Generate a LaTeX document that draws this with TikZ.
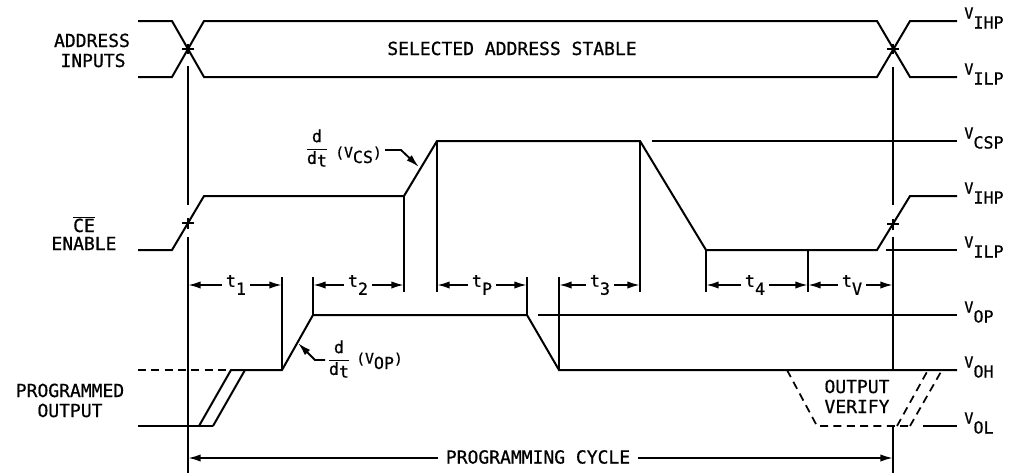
\documentclass[tikz,border=0pt]{standalone}
\usepackage{fontspec}
\setmainfont{DejaVu Sans Mono}[FakeBold=0.7]
\usetikzlibrary{arrows.meta}
\newcommand{\tsb}[1]{t\raisebox{-6pt}{#1}}
\newcommand{\vsb}[1]{\raisebox{7.5pt}{\fontsize{11.5}{12}\selectfont V}#1}
\begin{document}
\begin{tikzpicture}[x=0.75pt,y=-0.75pt,
  sig/.style={line width=1.5pt, line join=miter},
  thinl/.style={line width=1.4pt},
  dsh/.style={line width=1.3pt, dash pattern=on 6pt off 4pt},
  dimarr/.style={line width=1.4pt,-{Latex[length=9.5pt,width=5.5pt]}},
  lead/.style={line width=1.4pt,-{Latex[length=10pt,width=5.5pt]}},
  lbl/.style={font=\fontsize{13.5}{16}\selectfont, inner sep=0pt, anchor=base},
  tl/.style={font=\fontsize{12.5}{12}\selectfont, inner xsep=3pt, inner ysep=0pt},
  vl/.style={font=\fontsize{12.5}{14}\selectfont, anchor=base west, inner sep=0pt},
  frc/.style={font=\fontsize{12.5}{13}\selectfont, inner sep=0pt},
]
\useasboundingbox (0,0) rectangle (1016,475);

% ---- left labels
\node[lbl] (addr1) at (92,47) {ADDRESS};
\node[lbl] (addr2) at (93,67) {INPUTS};
\node[lbl] (ce1) at (84,232) {$\overline{\mbox{CE}}$};
\node[lbl] (ce2) at (84,250) {ENABLE};
\node[lbl] (po1) at (70,397) {PROGRAMMED};
\node[lbl] (po2) at (70,417) {OUTPUT};
\node[lbl] (stable) at (512,55) {SELECTED ADDRESS STABLE};

% ---- right labels
\node[vl] (r1) at (964,28.5) {\vsb{IHP}};
\node[vl] (r2) at (964,84.5) {\vsb{ILP}};
\node[vl] (r3) at (964,148.5) {\vsb{CSP}};
\node[vl] (r4) at (964,203.5) {\vsb{IHP}};
\node[vl] (r5) at (964,257.5) {\vsb{ILP}};
\node[vl] (r6) at (964,322.5) {\vsb{OP}};
\node[vl] (r7) at (964,377.5) {\vsb{OH}};
\node[vl] (r8) at (964,433.5) {\vsb{OL}};

% ---- address inputs
\draw[sig] (138,21) -- (172,21) -- (204,77) -- (877,77) -- (910,21) -- (957,21);
\draw[sig] (138,77) -- (172,77) -- (204,21) -- (877,21) -- (910,77) -- (957,77);

% crossing marks
\draw[thinl] (182,49) -- (194,49) (188,44) -- (188,54);
\draw[thinl] (887,49) -- (899,49) (893,44) -- (893,54);
\draw[thinl] (182,223) -- (194,223) (188,218) -- (188,229);
\draw[thinl] (887,224) -- (899,224) (893,219) -- (893,230);

% main verticals
\draw[thinl] (188,66) -- (188,205) (188,237) -- (188,473);
\draw[thinl] (893,67) -- (893,205) (893,237) -- (893,370) (893,426) -- (893,473);

% ---- CE enable
\draw[sig] (138,250) -- (172,250) -- (204,196) -- (404,196) -- (437,141) -- (640,141)
  -- (706,250) -- (877,250) -- (910,196) -- (957,196);
\draw[sig] (652,141) -- (957,141);
\draw[sig] (886,250) -- (957,250);

% extension lines
\draw[thinl] (404,196) -- (404,292) (437,141) -- (437,292) (640,141) -- (640,292)
  (706,250) -- (706,292) (808,250) -- (808,292)
  (282,277) -- (282,370) (313,277) -- (313,315)
  (527,277) -- (527,315) (559,277) -- (559,370);

% ---- programmed output
\draw[dsh] (138,370) -- (231,370);
\draw[sig] (138,426) -- (213,426);
\draw[sig] (199,426) -- (231,370) -- (282,370) -- (313,315) -- (527,315) -- (559,370) -- (957,370);
\draw[sig] (213,426) -- (245,370);
\draw[sig] (538,315) -- (957,315);

% output verify
\draw[dsh] (787,370) -- (817,426) -- (910,426);
\draw[dsh] (897,426) -- (928,370);
\draw[dsh] (910,426) -- (942,370);
\draw[sig] (923,426) -- (957,426);
\node[lbl] (ov1) at (857,393) {OUTPUT};
\node[lbl] (ov2) at (857,413) {VERIFY};

% ---- timing dimensions
\node[tl] (t1) at (236,285) {\tsb{1}};
\node[tl] (t2) at (358,285) {\tsb{2}};
\node[tl] (tp) at (482,285) {\tsb{P}};
\node[tl] (t3) at (600,285) {\tsb{3}};
\node[tl] (t4) at (755,285) {\tsb{4}};
\node[tl] (tv) at (852,285) {\tsb{V}};
\coordinate (a1) at (188,285); \coordinate (b1) at (282,285);
\coordinate (a2) at (313,285); \coordinate (b2) at (404,285);
\coordinate (ap) at (437,285); \coordinate (bp) at (527,285);
\coordinate (a3) at (559,285); \coordinate (b3) at (640,285);
\coordinate (a4) at (706,285); \coordinate (b4) at (808,285);
\coordinate (av) at (808,285); \coordinate (bv) at (893,285);
\draw[dimarr] (t1.west) -- (a1); \draw[dimarr] (t1.east) -- (b1);
\draw[dimarr] (t2.west) -- (a2); \draw[dimarr] (t2.east) -- (b2);
\draw[dimarr] (tp.west) -- (ap); \draw[dimarr] (tp.east) -- (bp);
\draw[dimarr] (t3.west) -- (a3); \draw[dimarr] (t3.east) -- (b3);
\draw[dimarr] (t4.west) -- (a4); \draw[dimarr] (t4.east) -- (b4);
\draw[dimarr] (tv.west) -- (av); \draw[dimarr] (tv.east) -- (bv);

% ---- programming cycle
\node[font=\fontsize{13.5}{16}\selectfont, inner xsep=6pt, inner ysep=0pt] (pc) at (538,457) {PROGRAMMING CYCLE};
\coordinate (pcl) at (188,458); \coordinate (pcr) at (893,458);
\draw[dimarr] (pc.west |- pcl) -- (pcl);
\draw[dimarr] (pc.east |- pcr) -- (pcr);

% ---- d/dt (V_CS)
\node[frc] (fcs) at (317,148) {$\displaystyle\frac{\mbox{d}}{\mbox{d\raisebox{-2pt}{t}}}$};
\node[frc, anchor=base west, font=\fontsize{12.5}{13}\selectfont] (vcs) at (335,163)
  {\raisebox{4pt}{\fontsize{11}{11}\selectfont(V}CS\raisebox{4pt}{\fontsize{11}{11}\selectfont)}};
\coordinate (lcs1) at (401,150); \coordinate (lcs2) at (419,167);
\draw[lead] (vcs.east |- lcs1) ++(3,0) -- (lcs1) -- (lcs2);

% ---- d/dt (V_OP)
\node[frc] (fop) at (339,359) {$\displaystyle\frac{\mbox{d}}{\mbox{d\raisebox{-2pt}{t}}}$};
\node[frc, anchor=base west, font=\fontsize{12.5}{13}\selectfont] (vop) at (356,369)
  {\raisebox{4pt}{\fontsize{11}{11}\selectfont(V}OP\raisebox{4pt}{\fontsize{11}{11}\selectfont)}};
\coordinate (lop1) at (315,360); \coordinate (lop2) at (298,343);
\draw[lead] (fop.west |- lop1) ++(-2,0) -- (lop1) -- (lop2);

\end{tikzpicture}
\end{document}
